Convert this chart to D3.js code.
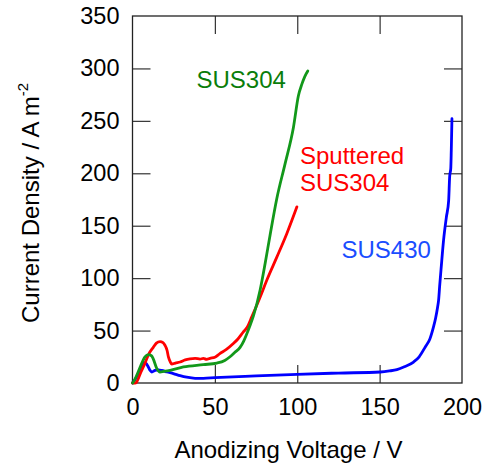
<!DOCTYPE html>
<meta charset="utf-8">
<head>
  <script src="https://d3js.org/d3.v7.min.js"></script>
  <style>
    body { margin: 0; background: #fff; }
    text { font-family: "Liberation Sans", Arial, sans-serif; }
  </style>
</head>
<body>
<div id="display"></div>
<script>

// SUS304 (green)
var v304 = [0, 0.5, 2.5, 4.6, 7.6, 9.6, 11.5, 12.6, 14.7, 16.7, 19, 22.8, 30.9, 43, 51.2, 56, 59.2, 62, 65.3, 67.5, 69.4, 71.4, 73.4, 77.5, 80.5, 83.5, 87.6, 92.6, 97.7, 100.7, 102.8, 104.5, 106.4];
var i304 = [0, 1, 7, 15, 25, 27, 26, 23, 14, 10.5, 11, 12, 15.3, 17.5, 19, 21.5, 25, 29, 34, 40, 47, 55, 64, 89, 114, 141, 176, 209, 244, 274, 285, 292, 297.5];

// Sputtered SUS304 (red)
var vSput = [0, 1.5, 2.5, 5, 7.6, 10, 12.6, 14.5, 16.7, 18.5, 19.7, 21, 21.8, 23, 23.8, 26, 28.9, 32, 34.9, 38, 41, 43, 45, 47, 50, 53, 57, 61.2, 64, 67.3, 69.5, 72.4, 77.5, 81.5, 87.6, 93.7, 99.8];
var iSput = [0, 0, 1, 10, 19, 28, 34, 38, 39.5, 38.5, 36, 31, 25, 20, 18, 19, 20, 22, 23, 23.5, 22.8, 23.5, 22.5, 23.5, 24.5, 28, 32, 37.6, 42, 48.7, 53, 63, 82, 98, 120, 142.6, 168];

// SUS430 (blue)
var v430 = [0, 1.5, 3.5, 5.5, 6.6, 7.6, 8.6, 9.6, 10.7, 11.7, 13.7, 15.7, 17.7, 21, 24.8, 28.9, 32.9, 38, 43, 50, 75, 100, 125, 150.4, 156, 160.5, 165, 170.6, 174, 177.7, 180.5, 182.7, 184, 185.2, 185.8, 186.4, 187.4, 188.8, 190.5, 191.9, 192.5, 193.2, 193.5, 193.9];
var i430 = [0, 3, 9, 15, 18.5, 19.5, 18, 15.3, 12, 10.5, 12, 12.5, 12, 10.5, 9, 7, 5.5, 4.5, 4.5, 5.1, 6.8, 8.3, 9.5, 10.5, 11.5, 12.8, 15.5, 20, 25, 34.4, 42, 53.5, 62, 72.5, 79, 91.6, 110.7, 136, 158, 174, 196.6, 205, 222, 252];

var xTicks = [0, 50, 100, 150, 200];
var yTicks = [0, 50, 100, 150, 200, 250, 300, 350];

var margin = {top: 16, right: 21, bottom: 84, left: 132.5},
    width = 483 - margin.left - margin.right,
    height = 467 - margin.top - margin.bottom;

var svg = d3.select("#display")
  .append("svg")
    .attr("width", 483)
    .attr("height", 467)
  .append("g")
    .attr("transform", "translate(" + margin.left + "," + margin.top + ")");

var x = d3.scaleLinear().domain([0, 200]).range([0, width]);
var y = d3.scaleLinear().domain([0, 350]).range([height, 0]);

function styleAxis(g, showText) {
  g.select(".domain").remove();
  g.selectAll(".tick line").attr("stroke", "#333").attr("stroke-width", 1.2);
  g.selectAll(".tick text").attr("fill", "#000").style("font-size", "23.5px")
    .style("font-family", "'Liberation Sans', Arial, sans-serif");
  if (!showText) g.selectAll(".tick text").remove();
}

var inner = xTicks.slice(1, -1);
var innerY = yTicks.slice(1, -1);

svg.append("g")
  .attr("transform", "translate(0," + height + ")")
  .call(d3.axisBottom(x).tickValues(xTicks).tickSizeInner(-18).tickSizeOuter(0).tickPadding(15))
  .call(function(g) { styleAxis(g, true); })
  .selectAll(".tick").filter(function(d) { return d == 0 || d == 200; }).select("line").remove();

svg.append("g")
  .call(d3.axisTop(x).tickValues(inner).tickSizeInner(-18).tickSizeOuter(0))
  .call(function(g) { styleAxis(g, false); });

svg.append("g")
  .call(d3.axisLeft(y).tickValues(yTicks).tickSizeInner(-18).tickSizeOuter(0).tickPadding(13))
  .call(function(g) { styleAxis(g, true); })
  .selectAll(".tick").filter(function(d) { return d == 0 || d == 350; }).select("line").remove();

svg.append("g")
  .attr("transform", "translate(" + width + ",0)")
  .call(d3.axisRight(y).tickValues(innerY).tickSizeInner(-18).tickSizeOuter(0))
  .call(function(g) { styleAxis(g, false); });

// frame
svg.append("rect")
  .attr("width", width).attr("height", height)
  .attr("fill", "none").attr("stroke", "#222").attr("stroke-width", 1.3);

var line = d3.line()
  .x(function(d) { return x(d[0]); })
  .y(function(d) { return y(d[1]); })
  .curve(d3.curveMonotoneX);

function series(vs, is, color) {
  svg.append("path")
    .datum(d3.zip(vs, is))
    .attr("fill", "none")
    .attr("stroke", color)
    .attr("stroke-width", 2.8)
    .attr("stroke-linejoin", "round")
    .attr("stroke-linecap", "round")
    .attr("d", line);
}

series(v430, i430, "#0000ff");
series(vSput, iSput, "#ff0000");
series(v304, i304, "#12981a");

// labels
var root = d3.select("svg");
function label(txt, px, py, color) {
  root.append("text").attr("x", px).attr("y", py)
    .attr("fill", color).style("font-size", "24px").text(txt);
}
label("SUS304", 196.5, 88, "#0a7d0a");
label("Sputtered", 300, 164, "#ff0000");
label("SUS304", 300, 191, "#ff0000");
label("SUS430", 341.5, 258, "#1a4dff");

root.append("text")
  .attr("x", 288.5).attr("y", 458)
  .attr("text-anchor", "middle")
  .style("font-size", "24px")
  .text("Anodizing Voltage / V");

var yt = root.append("text")
  .attr("transform", "translate(39,323) rotate(-90)")
  .style("font-size", "24px");
yt.append("tspan").text("Current Density / A m");
yt.append("tspan").attr("dy", -11).style("font-size", "15px").text("-2");

</script>
</body>
